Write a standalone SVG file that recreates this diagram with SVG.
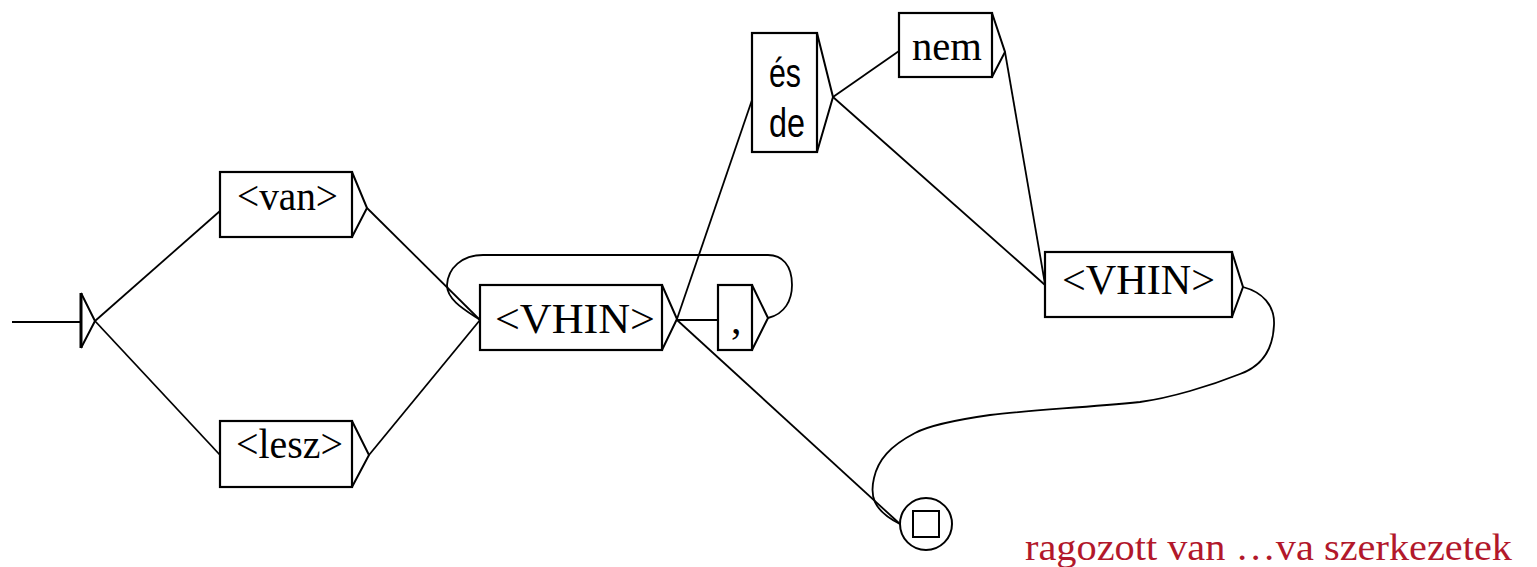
<svg xmlns="http://www.w3.org/2000/svg" width="1537" height="567" viewBox="0 0 1537 567">
  <style>
    .box { fill: #ffffff; stroke: #000000; stroke-width: 2.2; }
    .tri { fill: none; stroke: #000000; stroke-width: 2; stroke-linejoin: miter; }
    .edge { fill: none; stroke: #000000; stroke-width: 1.8; }
    .lbl { font-family: "Liberation Serif", "Times New Roman", serif; font-size: 42px; fill: #000000; }
    .sans { font-family: "Liberation Sans", Arial, sans-serif; font-size: 40px; fill: #000000; }
    .title { font-family: "Liberation Serif", "Times New Roman", serif; font-size: 37px; fill: #b2182b; }
  </style>
  <rect width="1537" height="567" fill="#ffffff"/>

  <!-- transitions -->
  <g id="connectors">
    <line class="edge" x1="12" y1="322" x2="81" y2="322" stroke-width="2"/>
    <line class="edge" x1="95" y1="321" x2="220" y2="211"/>
    <line class="edge" x1="95" y1="321" x2="220" y2="455"/>
    <line class="edge" x1="367" y1="208" x2="480" y2="320"/>
    <line class="edge" x1="369" y1="455" x2="480" y2="320"/>
    <line class="edge" x1="677" y1="319" x2="752" y2="100"/>
    <line class="edge" x1="677" y1="320" x2="718" y2="320"/>
    <line class="edge" x1="677" y1="320" x2="900" y2="524"/>
    <path class="edge" d="M768,318 C785,314 792,300 792,285 C792,265 782,255 768,255 L483,255 C462,255 448,268 447,285 C447,300 465,310 480,320"/>
    <line class="edge" x1="833" y1="97" x2="899" y2="51"/>
    <line class="edge" x1="833" y1="97" x2="1045" y2="285"/>
    <line class="edge" x1="1005" y1="52" x2="1045" y2="284"/>
    <path class="edge" d="M1243,287 C1262,292 1275,305 1274,325 C1273,350 1262,366 1240,374 C1210,386 1170,398 1140,402 C1080,408 1030,410 990,415 C955,420 930,425 915,433 C890,446 878,460 874,478 C870,495 872,510 900,524"/>
  </g>

  <!-- initial state -->
  <g id="start">
    <line x1="81" y1="293" x2="81" y2="348" stroke="#000" stroke-width="3"/>
    <polyline class="tri" points="81,293 95,321 81,348"/>
  </g>

  <g id="n-van">
    <rect class="box" x="220" y="172" width="132" height="65"/>
    <polyline class="tri" points="352,172 367,208 352,237"/>
    <text class="lbl" x="237" y="210" textLength="101" lengthAdjust="spacingAndGlyphs">&lt;van&gt;</text>
  </g>

  <g id="n-lesz">
    <rect class="box" x="220" y="421" width="132" height="66"/>
    <polyline class="tri" points="352,421 369,455 352,487"/>
    <text class="lbl" x="236" y="458" textLength="107" lengthAdjust="spacingAndGlyphs">&lt;lesz&gt;</text>
  </g>

  <g id="n-vhin1">
    <rect class="box" x="480" y="285" width="182" height="65"/>
    <polyline class="tri" points="662,285 677,319 662,350"/>
    <text class="lbl" x="495" y="333" textLength="160" lengthAdjust="spacingAndGlyphs">&lt;VHIN&gt;</text>
  </g>

  <g id="n-comma">
    <rect class="box" x="718" y="285" width="34" height="65"/>
    <polyline class="tri" points="752,285 768,318 752,350"/>
    <text class="lbl" x="731" y="333">,</text>
  </g>

  <g id="n-es-de">
    <rect class="box" x="752" y="33" width="65" height="119"/>
    <polyline class="tri" points="817,33 833,97 817,152"/>
    <text class="sans" x="769" y="87" textLength="32" lengthAdjust="spacingAndGlyphs">és</text>
    <text class="sans" x="769" y="137" textLength="36" lengthAdjust="spacingAndGlyphs">de</text>
  </g>

  <g id="n-nem">
    <rect class="box" x="899" y="13" width="93" height="64"/>
    <polyline class="tri" points="992,13 1005,52 992,77"/>
    <text class="lbl" x="912" y="60" textLength="70" lengthAdjust="spacingAndGlyphs">nem</text>
  </g>

  <g id="n-vhin2">
    <rect class="box" x="1045" y="252" width="187" height="65"/>
    <polyline class="tri" points="1232,252 1243,287 1232,317"/>
    <text class="lbl" x="1062" y="294" textLength="153" lengthAdjust="spacingAndGlyphs">&lt;VHIN&gt;</text>
  </g>

  <!-- final state -->
  <g id="final">
    <circle cx="926" cy="524" r="26" fill="#ffffff" stroke="#000" stroke-width="2"/>
    <rect x="913" y="511" width="26" height="26" fill="none" stroke="#000" stroke-width="2"/>
  </g>

  <g id="caption">
    <text class="title" x="1025" y="560" textLength="487" lengthAdjust="spacingAndGlyphs">ragozott van …va szerkezetek</text>
  </g>
</svg>
